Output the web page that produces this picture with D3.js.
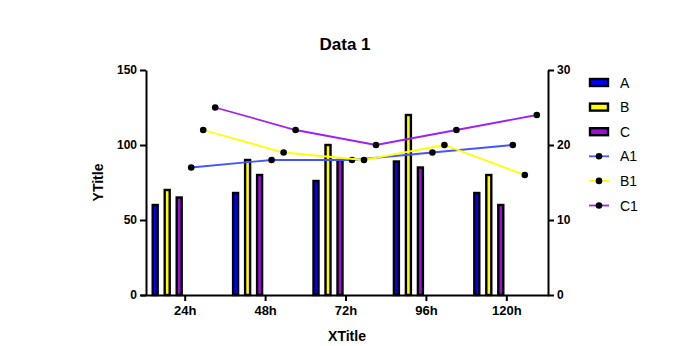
<!DOCTYPE html>
<html><head><meta charset="utf-8">
<script src="https://cdn.jsdelivr.net/npm/d3@7"></script>
<style>body{margin:0;background:#fff}svg{display:block}text{font-family:Arial,"Liberation Sans",sans-serif}</style>
</head><body>
<svg id="c" width="680" height="346"></svg>
<script>
const categories = ["24h","48h","72h","96h","120h"];
const barSeries = ["A","B","C"];
const lineSeries = ["A1","B1","C1"];
const A = [60,68,76,89,68];
const B = [70,90,100,120,80];
const C = [65,80,90,85,60];
const A1 = [17,18,18,19,20];
const B1 = [22,19,18,20,16];
const C1 = [25,22,20,22,24];
const leftTicks = [0,50,100,150];
const rightTicks = [0,10,20,30];
const barColors = ["#0000ff","#ffff00","#9b10d8"];
const lineColors = ["#4455ff","#ffff00","#a020f0"];

const svg = d3.select("#c");
const L = 146, R = 548, T = 70, Bt = 295;
const x = d3.scaleBand().domain(categories).range([L, R]).padding(0);
const yL = d3.scaleLinear().domain([0,150]).range([Bt, T]);
const yR = d3.scaleLinear().domain([0,30]).range([Bt, T]);
const allSeries = barSeries.concat(lineSeries);
const off = d3.scalePoint().domain(allSeries).range([-30, 30]);
const cx = (c) => x(c) + x.bandwidth()/2 - 1;

// axes
const fontTick = "bold 12px Arial";
const gL = svg.append("g").attr("transform",`translate(${L},0)`)
  .call(d3.axisLeft(yL).tickValues(leftTicks).tickSize(6).tickSizeOuter(0).tickPadding(3));
const gR = svg.append("g").attr("transform",`translate(${R},0)`)
  .call(d3.axisRight(yR).tickValues(rightTicks).tickSize(6).tickSizeOuter(0).tickPadding(3));
const gX = svg.append("g").attr("transform",`translate(0,${Bt})`)
  .call(d3.axisBottom(x).tickSize(6).tickSizeOuter(0).tickPadding(5));
gX.selectAll(".tick").attr("transform", d => `translate(${cx(d)},0)`);
gX.select(".domain").attr("d", `M${L-5},0.5H${R+1}`);
[gL,gR,gX].forEach(g=>{
  g.selectAll(".domain").attr("stroke","#000").attr("stroke-width",2);
  g.selectAll(".tick line").attr("stroke","#000").attr("stroke-width",2);
  g.selectAll("text").style("font",fontTick).attr("fill","#000");
});
gX.selectAll("text").style("font","bold 13px Arial");

// bars
const barData = [A,B,C];
barSeries.forEach((s,i)=>{
  svg.append("g").selectAll("rect").data(categories).join("rect")
    .attr("x", c => cx(c) + off(s) - 2.5)
    .attr("width", 5)
    .attr("y", (c,j) => yL(barData[i][j]))
    .attr("height", (c,j) => Bt - yL(barData[i][j]))
    .attr("fill", barColors[i]).attr("stroke","#000").attr("stroke-width",2.4);
});

// lines
const lineData = [A1,B1,C1];
lineSeries.forEach((s,i)=>{
  const pts = categories.map((c,j)=>[cx(c)+off(s), yR(lineData[i][j])]);
  svg.append("path").attr("d", d3.line()(pts)).attr("fill","none")
    .attr("stroke", lineColors[i]).attr("stroke-width",1.8);
  svg.append("g").selectAll("circle").data(pts).join("circle")
    .attr("cx", d=>d[0]).attr("cy", d=>d[1]).attr("r",3.3).attr("fill","#000");
});

// titles
svg.append("text").attr("x",345).attr("y",50).attr("text-anchor","middle")
  .style("font","bold 17px Arial").text("Data 1");
svg.append("text").attr("x",347).attr("y",341).attr("text-anchor","middle")
  .style("font","bold 14px Arial").text("XTitle");
svg.append("text").attr("transform",`translate(103,${(T+Bt)/2}) rotate(-90)`)
  .attr("text-anchor","middle").style("font","bold 14px Arial").text("YTitle");

// legend
const leg = svg.append("g");
const ly = d3.scalePoint().domain(allSeries).range([82.5, 205.5]);
barSeries.forEach((s,i)=>{
  leg.append("rect").attr("x",590).attr("y",ly(s)-3.5).attr("width",18).attr("height",7)
    .attr("fill",barColors[i]).attr("stroke","#000").attr("stroke-width",2.4);
});
lineSeries.forEach((s,i)=>{
  leg.append("line").attr("x1",589).attr("x2",609).attr("y1",ly(s)).attr("y2",ly(s))
    .attr("stroke",lineColors[i]).attr("stroke-width",1.8);
  leg.append("circle").attr("cx",599).attr("cy",ly(s)).attr("r",3.3).attr("fill","#000");
});
allSeries.forEach(s=>{
  leg.append("text").attr("x",620).attr("y",ly(s)+5).style("font","14px Arial").text(s);
});
</script>
</body></html>
